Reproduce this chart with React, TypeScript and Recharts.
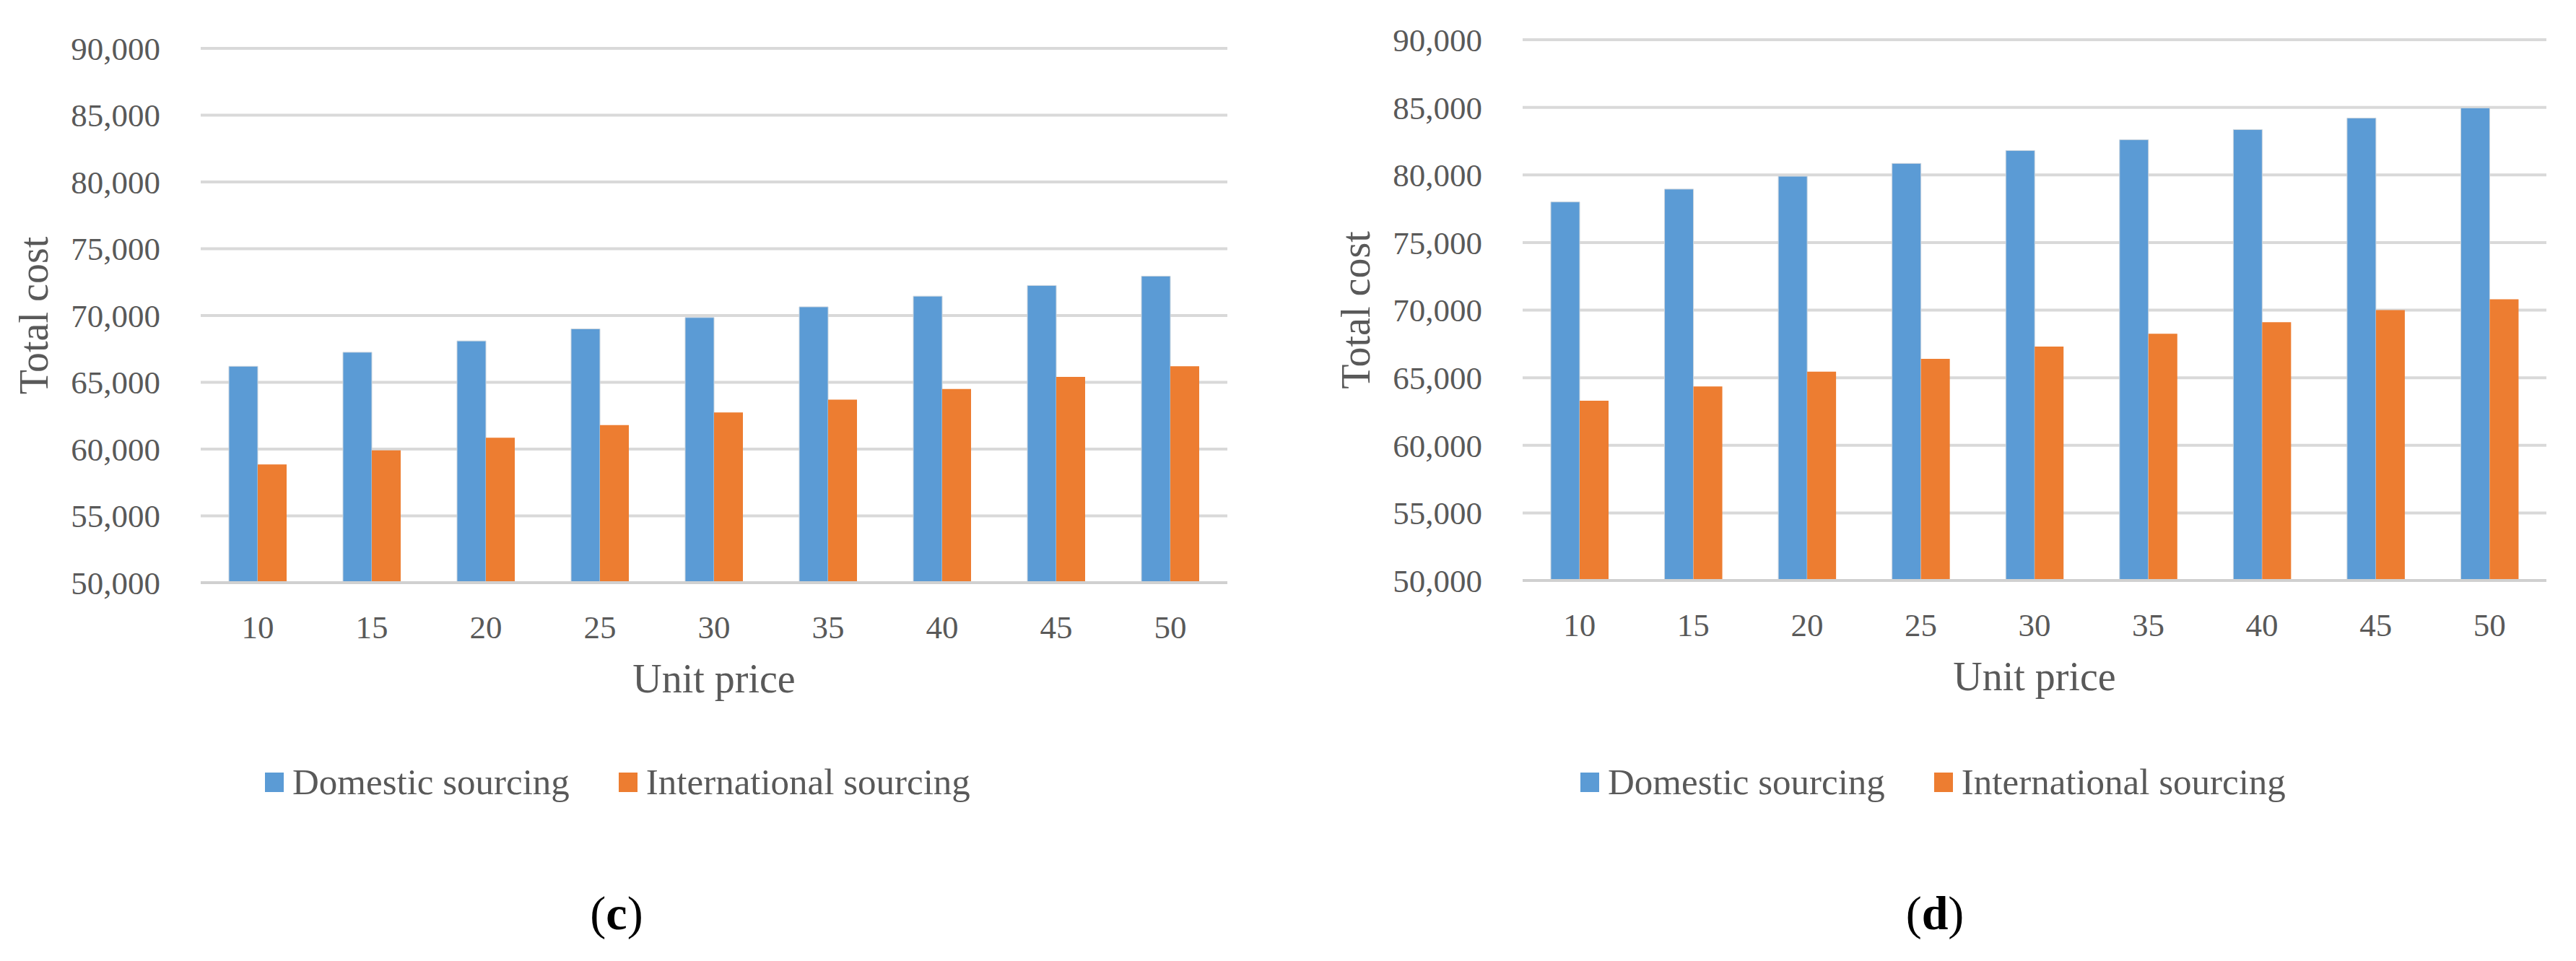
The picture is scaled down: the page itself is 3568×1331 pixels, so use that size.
import React from "react";
import {
  Bar,
  BarChart,
  CartesianGrid,
  XAxis,
  YAxis,
  Label,
} from "recharts";

// unit price categories shared by both panels
const unitPrices = ["10", "15", "20", "25", "30", "35", "40", "45", "50"];

// panel (c)
const domesticC = [66200, 67250, 68100, 69000, 69850, 70650, 71450, 72250, 72950];
const internationalC = [58850, 59900, 60850, 61800, 62750, 63700, 64500, 65400, 66200];

// panel (d)
const domesticD = [78000, 78950, 79900, 80850, 81800, 82600, 83350, 84200, 84950];
const internationalD = [63300, 64350, 65450, 66400, 67300, 68250, 69100, 70000, 70800];

const yTicks = [50000, 55000, 60000, 65000, 70000, 75000, 80000, 85000, 90000];
const seriesNames = ["Domestic sourcing", "International sourcing"];
const seriesColors = ["#5B9BD5", "#ED7D31"];

const FONT = '"Liberation Serif", "Times New Roman", serif';
const TEXT = "#595959";

const fmt = (v: number) => v.toLocaleString("en-US");

function buildRows(dom: number[], intl: number[]) {
  return unitPrices.map((p, i) => ({ price: p, domestic: dom[i], international: intl[i] }));
}

interface PanelProps {
  left: number;
  top: number;
  yAxisWidth: number;
  rightMargin: number;
  bottomMargin: number;
  dom: number[];
  intl: number[];
}

function Panel({ left, top, yAxisWidth, rightMargin, bottomMargin, dom, intl }: PanelProps) {
  const data = buildRows(dom, intl);
  return (
    <div style={{ position: "absolute", left, top: 0 }}>
      <BarChart
        width={1784}
        height={1000}
        data={data}
        margin={{ top, right: rightMargin, bottom: bottomMargin, left: 0 }}
        barGap={0}
      >
        <CartesianGrid vertical={false} stroke="#d9d9d9" strokeWidth={4} />
        <XAxis
          dataKey="price"
          height={150}
          tickSize={0}
          tickMargin={45}
          axisLine={{ stroke: "#d0d0d0", strokeWidth: 4 }}
          tickLine={false}
          tick={{ fontFamily: FONT, fontSize: 45, fill: TEXT }}
        >
          <Label
            content={(props: any) => {
              const vb = props.viewBox;
              return (
                <text
                  x={vb.x + vb.width / 2}
                  y={vb.y + 152}
                  textAnchor="middle"
                  fontFamily={FONT}
                  fontSize={56}
                  fill={TEXT}
                >
                  Unit price
                </text>
              );
            }}
          />
        </XAxis>
        <YAxis
          width={yAxisWidth}
          domain={[50000, 90000]}
          ticks={yTicks}
          tickFormatter={fmt}
          axisLine={false}
          tickLine={false}
          tickSize={0}
          tickMargin={56}
          tick={{ fontFamily: FONT, fontSize: 45, fill: TEXT }}
        >
          <Label
            content={(props: any) => {
              const vb = props.viewBox;
              const cx = vb.x + vb.width - 231;
              const cy = vb.y + vb.height / 2;
              return (
                <text
                  x={cx}
                  y={cy}
                  transform={`rotate(-90 ${cx} ${cy})`}
                  textAnchor="middle"
                  dominantBaseline="central"
                  fontFamily={FONT}
                  fontSize={56}
                  fill={TEXT}
                >
                  Total cost
                </text>
              );
            }}
          />
        </YAxis>
        <Bar dataKey="domestic" name={seriesNames[0]} fill={seriesColors[0]} stroke="#c9d4de" strokeWidth={1} barSize={40} isAnimationActive={false} />
        <Bar dataKey="international" name={seriesNames[1]} fill={seriesColors[1]} barSize={40} isAnimationActive={false} />
      </BarChart>
    </div>
  );
}

function LegendRow({ left }: { left: number }) {
  return (
    <div
      style={{
        position: "absolute",
        left,
        top: 1058,
        height: 50,
        display: "flex",
        alignItems: "center",
        fontFamily: FONT,
        fontSize: 51,
        lineHeight: 1,
        color: TEXT,
        whiteSpace: "nowrap",
      }}
    >
      {seriesNames.map((n, i) => (
        <div key={n} style={{ display: "flex", alignItems: "center", marginRight: i === 0 ? 68 : 0 }}>
          <span style={{ width: 26, height: 27, background: seriesColors[i], marginRight: 12, display: "inline-block" }} />
          <span>{n}</span>
        </div>
      ))}
    </div>
  );
}

function Caption({ cx, letter }: { cx: number; letter: string }) {
  return (
    <div
      style={{
        position: "absolute",
        left: cx - 100,
        width: 200,
        top: 1232,
        textAlign: "center",
        fontFamily: FONT,
        fontSize: 66,
        lineHeight: 1,
        color: "#000",
      }}
    >
      (<b>{letter}</b>)
    </div>
  );
}

export default function App() {
  return (
    <div style={{ position: "absolute", left: 0, top: 0, width: 3568, height: 1331, background: "#fff" }}>
      <Panel left={0} top={67} yAxisWidth={278} rightMargin={84} bottomMargin={43} dom={domesticC} intl={internationalC} />
      <Panel left={1784} top={55} yAxisWidth={325} rightMargin={41} bottomMargin={46} dom={domesticD} intl={internationalD} />
      <LegendRow left={367} />
      <LegendRow left={2189} />
      <Caption cx={854} letter="c" />
      <Caption cx={2680} letter="d" />
    </div>
  );
}
